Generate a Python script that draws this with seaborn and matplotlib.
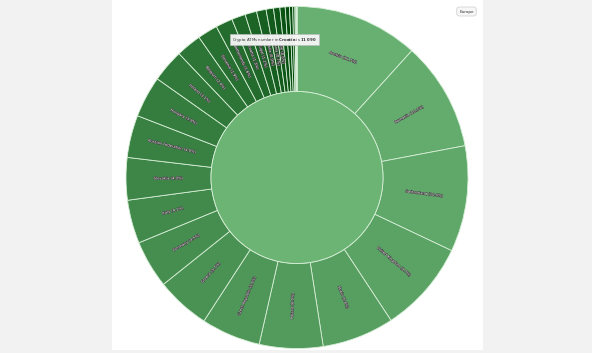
import numpy as np
import matplotlib
matplotlib.use("Agg")
import matplotlib.pyplot as plt
import matplotlib.patheffects as pe
from matplotlib.patches import Rectangle
import seaborn as sns

# ---- data (approximate) ----
root_label = "Europe"
countries = [
    "Austria", "Romania", "Switzerland", "United Kingdom", "Spain", "Poland",
    "Czech Republic", "Greece", "Germany", "Italy", "Slovakia",
    "Russian Federation", "Hungary", "Ireland", "Belgium", "Slovenia",
    "Netherlands", "Croatia", "Portugal", "Bulgaria", "Lithuania", "Ukraine",
    "Georgia", "Latvia", "Cyprus", "Estonia", "Finland", "Denmark",
    "Luxembourg", "Norway",
]
shares = [
    11.7, 10.3, 10.0, 8.7, 6.8, 6.0, 5.6, 5.1, 4.5, 4.1, 4.0, 4.0, 3.9,
    3.1, 2.4, 1.9, 1.6, 1.3, 1.1, 0.9, 0.7, 0.6, 0.5, 0.4, 0.3, 0.2,
    0.1, 0.05, 0.03, 0.02,
]
tooltip_country = "Croatia"
tooltip_value = "11 090"

sns.set_theme(style="white")

W, H = 592, 353
fig = plt.figure(figsize=(W / 100, H / 100), dpi=100, facecolor="#f2f2f2")
bg = Rectangle((112 / W, 3 / H), 371 / W, 350 / H, transform=fig.transFigure,
               facecolor="white", edgecolor="none", zorder=-10)
fig.add_artist(bg)

cx, cy, R = 297, 175.5, 171
ax = fig.add_axes([(cx - R) / W, (cy - R) / H, 2 * R / W, 2 * R / H])
ax.set_facecolor("none")
ax.set_zorder(1)

rin = 86 / 171
n = len(shares)
base = np.array([104, 176, 114]) / 255.0
colors = [tuple(np.clip(base - 0.5 * i / n, 0, 1)) for i in range(n)]

edge = "#d6eed6"
wedges, _ = ax.pie(shares, radius=1, startangle=90, counterclock=False,
                   colors=colors,
                   wedgeprops=dict(width=1 - rin, edgecolor=edge, linewidth=0.6))
ax.pie([1], radius=rin, colors=["#6bb474"],
       wedgeprops=dict(edgecolor=edge, linewidth=0.6))

ax.set_xlim(-1, 1)
ax.set_ylim(-1, 1)
ax.set_aspect("equal")
ax.axis("off")

rmid = (1 + rin) / 2
for i, (w, name, s) in enumerate(zip(wedges, countries, shares)):
    if s < 0.6:
        continue
    th = (w.theta1 + w.theta2) / 2
    x, y = rmid * np.cos(np.radians(th)), rmid * np.sin(np.radians(th))
    if i == 0:
        rot = th - 90
    else:
        rot = th
        if 90 < (th % 360) < 270:
            rot = th + 180
    ax.text(x, y, f"{name} ({s:.1f}%)", rotation=rot, rotation_mode="anchor",
            ha="center", va="center", fontsize=2.7, color="white",
            path_effects=[pe.withStroke(linewidth=0.5, foreground="#333333")])

fig.text(274.5 / W, 1 - 39.5 / H,
         r"Crypto ATMs number in $\mathbf{" + tooltip_country + r"}$ is $\mathbf{"
         + tooltip_value.replace(" ", r"\ ") + r"}$",
         ha="center", va="center", fontsize=2.8, color="#333333", zorder=10,
         bbox=dict(boxstyle="square,pad=0.45", fc="#f7f7f7", ec="#bbbbbb",
                   lw=0.5, alpha=0.95))

fig.text(466.5 / W, 1 - 11.5 / H, root_label, ha="center", va="center",
         fontsize=3.0, color="#333333", zorder=10,
         bbox=dict(boxstyle="round,pad=0.6", fc="#f7f7f7", ec="#cccccc", lw=0.5))

fig.savefig("out.png", dpi=100, facecolor=fig.get_facecolor())
